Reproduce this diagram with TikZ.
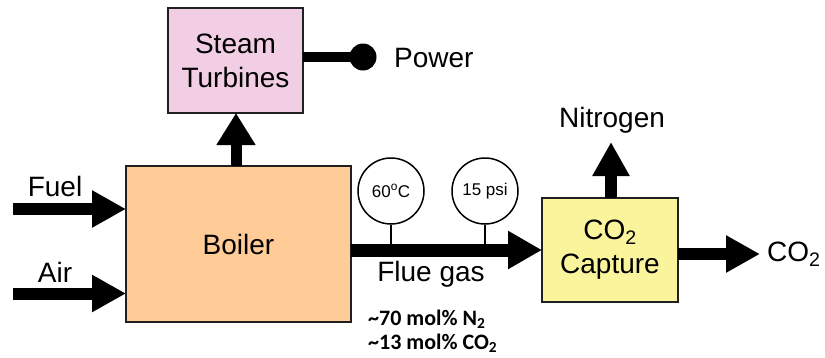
\documentclass[tikz,border=0pt]{standalone}
\usepackage{fontspec}
\setmainfont{Liberation Sans}
\newfontfamily\compfont{Carlito}
\usetikzlibrary{arrows.meta}
\definecolor{boilerfill}{HTML}{FFCB96}
\definecolor{turbfill}{HTML}{F2CEE4}
\definecolor{capfill}{HTML}{FAF49C}
\definecolor{edgecol}{HTML}{202020}
\begin{document}
\begin{tikzpicture}[x=1pt,y=-1pt,
  unitbox/.style={draw=edgecol,line width=2pt,inner sep=0pt,outer sep=0pt,align=center,
    font=\fontsize{28}{34}\selectfont},
  lbl/.style={inner sep=0pt,font=\fontsize{28}{34}\selectfont},
  flow/.style={line width=12pt,-{Triangle[width=35pt,length=34pt]}},
  gauge/.style={circle,draw=black,line width=1.5pt,fill=white,minimum size=66pt,inner sep=0pt,
    font=\fontsize{17}{20}\selectfont},
  stem/.style={line width=1.6pt},
  comp/.style={inner sep=0pt,anchor=base west,font=\compfont\bfseries\fontsize{22}{24}\selectfont}]
\useasboundingbox (0,0) rectangle (825,357);

% units
\node[unitbox,fill=boilerfill,minimum width=225pt,minimum height=156pt] (boiler) at (238.5,244) {Boiler};
\node[unitbox,fill=turbfill,minimum width=135pt,minimum height=105pt] (turb) at (235.5,60.5) {Steam\\Turbines};
\node[unitbox,fill=capfill,minimum width=136pt,minimum height=104pt] (cap) at (610,250) {CO\textsubscript{2}\\Capture};

% inputs
\coordinate (fuelstart) at (13,209);
\coordinate (airstart) at (13,293.5);
\node[lbl] (fuel) at (55,186) {Fuel};
\node[lbl] (air) at (55,272) {Air};
\draw[flow] (fuelstart) -- (boiler.west |- fuelstart);
\draw[flow] (airstart) -- (boiler.west |- airstart);

% boiler to turbines
\coordinate (upx) at (236,0);
\draw[line width=11pt,-{Triangle[width=37pt,length=32pt]}] (boiler.north -| upx) -- (turb.south -| upx);

% power
\coordinate (dotc) at (363,57);
\fill (dotc) circle (13.5pt);
\draw[line width=10pt] (turb.east |- dotc) -- (dotc);
\node[lbl,anchor=west] (power) at (394,58) {Power};

% flue gas
\coordinate (fluey) at (0,250);
\draw[line width=13pt,-{Triangle[width=36pt,length=34pt]}] (boiler.east |- fluey) -- (cap.west |- fluey);
\node[gauge] (g1) at (391,191) {60\textsuperscript{o}C};
\node[gauge] (g2) at (485,191) {15 psi};
\draw[stem] (g1.south) -- ++(0,19);
\draw[stem] (g2.south) -- ++(0,19);
\node[lbl] (flue) at (431,274) {Flue gas};
\node[comp] (c1) at (368,325) {\textasciitilde70 mol\% N\textsubscript{2}};
\node[comp] (c2) at (368,349) {\textasciitilde13 mol\% CO\textsubscript{2}};

% nitrogen
\coordinate (nx) at (611,0);
\coordinate (ntip) at (611,142);
\draw[flow] (cap.north -| nx) -- (ntip);
\node[lbl] (nitro) at (612,120) {Nitrogen};

% co2 out
\coordinate (cotip) at (760,254);
\draw[flow] (cap.east |- cotip) -- (cotip);
\node[lbl,anchor=west] (co2) at (767,254) {CO\textsubscript{2}};
\end{tikzpicture}
\end{document}
